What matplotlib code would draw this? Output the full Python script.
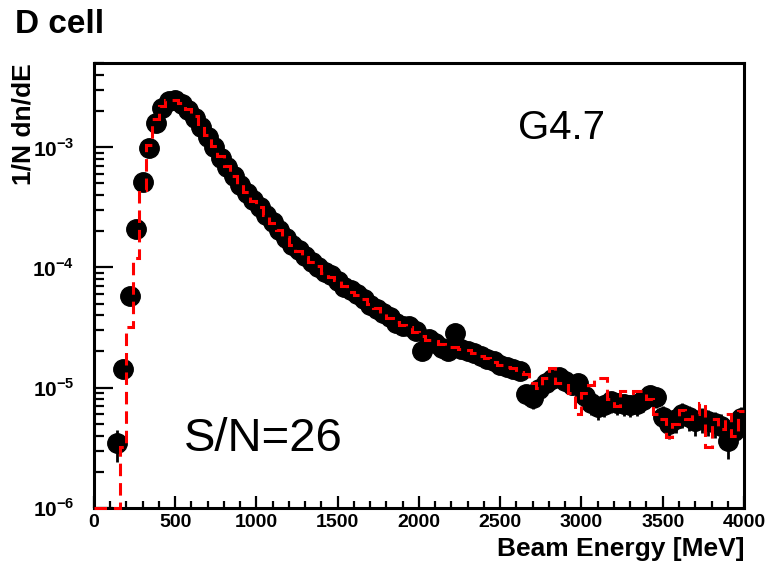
import numpy as np
import matplotlib
matplotlib.use("Agg")
import matplotlib.pyplot as plt
from matplotlib.ticker import FixedLocator, FixedFormatter, NullFormatter

plt.rcParams["font.family"] = ["Liberation Sans", "DejaVu Sans"]
plt.rcParams["mathtext.fontset"] = "custom"
plt.rcParams["mathtext.rm"] = "Liberation Sans:bold"
plt.rcParams["mathtext.bf"] = "Liberation Sans:bold"
plt.rcParams["lines.scale_dashes"] = False

# ── data: 40 MeV bins, 0-4000 MeV ────────────────────────────────────────────
BIN_EDGES = np.arange(0, 4001, 40)

# measured points (bin centres 140 ... 3980 MeV)
DATA_E = np.arange(140, 4000, 40)
DATA_Y = [
    3.45e-6, 1.43e-5, 5.83e-5, 2.08e-4, 5.13e-4, 9.87e-4, 1.60e-3, 2.13e-3,
    2.44e-3, 2.48e-3, 2.30e-3, 2.05e-3, 1.76e-3, 1.48e-3, 1.22e-3, 1.00e-3,
    8.14e-4, 6.85e-4, 5.76e-4, 4.84e-4, 4.15e-4, 3.63e-4, 3.17e-4, 2.72e-4,
    2.38e-4, 2.04e-4, 1.75e-4, 1.53e-4, 1.39e-4, 1.24e-4, 1.10e-4, 1.00e-4,
    9.08e-5, 8.58e-5, 7.64e-5, 6.94e-5, 6.43e-5, 6.07e-5, 5.51e-5, 4.91e-5,
    4.54e-5, 4.21e-5, 3.90e-5, 3.47e-5, 3.28e-5, 3.28e-5, 2.98e-5, 2.03e-5,
    2.55e-5, 2.36e-5, 2.15e-5, 2.03e-5, 2.86e-5, 2.11e-5, 2.03e-5, 1.95e-5,
    1.84e-5, 1.74e-5, 1.67e-5, 1.55e-5, 1.49e-5, 1.43e-5, 1.38e-5, 8.86e-6,
    8.20e-6, 9.75e-6, 1.09e-5, 1.18e-5, 1.23e-5, 1.14e-5, 1.05e-5, 1.09e-5,
    8.50e-6, 7.45e-6, 6.90e-6, 7.17e-6, 7.74e-6, 7.45e-6, 7.30e-6, 7.17e-6,
    7.30e-6, 7.90e-6, 8.70e-6, 8.40e-6, 5.69e-6, 4.98e-6, 5.48e-6, 6.04e-6,
    5.69e-6, 5.27e-6, 5.48e-6, 5.27e-6, 5.07e-6, 4.78e-6, 3.59e-6, 4.35e-6,
    5.58e-6,
]
# events per unit of 1/N dn/dE, used for the Poisson error bars
COUNTS_PER_UNIT = 3.2e6

# G4.7 simulation histogram (100 bins)
MC_Y = [
    0, 0, 0, 0, 3.2e-6, 3.2e-5, 1.2e-4, 4.4e-4, 1.04e-3, 1.70e-3,
    2.20e-3, 2.45e-3, 2.47e-3, 2.33e-3, 2.08e-3, 1.80e-3, 1.50e-3, 1.25e-3, 1.02e-3, 8.4e-4,
    7.0e-4, 5.8e-4, 4.9e-4, 4.2e-4, 3.6e-4, 3.15e-4, 2.75e-4, 2.35e-4, 2.05e-4, 1.80e-4,
    1.55e-4, 1.38e-4, 1.22e-4, 1.12e-4, 1.02e-4, 9.0e-5, 8.4e-5, 7.8e-5, 7.0e-5, 6.3e-5,
    5.9e-5, 5.5e-5, 5.0e-5, 4.6e-5, 4.2e-5, 3.8e-5, 3.5e-5, 3.3e-5, 3.2e-5, 2.9e-5,
    2.7e-5, 2.5e-5, 2.45e-5, 2.3e-5, 2.2e-5, 2.2e-5, 2.1e-5, 2.05e-5, 1.95e-5, 1.85e-5,
    1.75e-5, 1.65e-5, 1.55e-5, 1.50e-5, 1.45e-5, 1.35e-5, 1.30e-5, 1.10e-5, 1.00e-5, 1.20e-5,
    1.45e-5, 1.10e-5, 1.05e-5, 9.0e-6, 6.0e-6, 9.0e-6, 1.05e-5, 1.20e-5, 1.20e-5, 8.0e-6,
    7.0e-6, 9.4e-6, 9.0e-6, 9.4e-6, 9.4e-6, 8.0e-6, 6.0e-6, 5.5e-6, 3.9e-6, 5.0e-6,
    6.5e-6, 5.5e-6, 6.0e-6, 7.5e-6, 3.2e-6, 5.5e-6, 4.5e-6, 6.0e-6, 4.0e-6, 6.4e-6,
]

X_TICKS = [0, 500, 1000, 1500, 2000, 2500, 3000, 3500, 4000]
Y_TICKS = [1e-6, 1e-5, 1e-4, 1e-3]
Y_TICK_LABELS = [r"$10^{-6}$", r"$10^{-5}$", r"$10^{-4}$", r"$10^{-3}$"]
Y_MIN, Y_MAX = 1e-6, 5e-3

data_y = np.array(DATA_Y)
data_err = np.sqrt(data_y / COUNTS_PER_UNIT)
mc_y = np.clip(np.array(MC_Y), Y_MIN, None)

fig = plt.figure(figsize=(7.78, 5.63), dpi=100)
ax = fig.add_axes([0.1208, 0.0977, 0.8355, 0.7903])

ax.errorbar(DATA_E, data_y, yerr=data_err, fmt="o", color="black",
            ms=14, elinewidth=2, capsize=0, zorder=2)
ax.stairs(mc_y, BIN_EDGES, baseline=None, color="red", lw=2.2,
          linestyle=(0, (9, 5)), zorder=3, clip_on=False)

ax.set_yscale("log")
ax.set_xlim(0, 4000)
ax.set_ylim(Y_MIN, Y_MAX)

ax.xaxis.set_major_locator(FixedLocator(X_TICKS))
ax.xaxis.set_minor_locator(FixedLocator(np.arange(0, 4001, 100)))
ax.set_xticklabels([str(t) for t in X_TICKS], fontweight="bold", fontsize=14)

minor_y = [m * 10.0 ** e for e in range(-6, -2) for m in range(2, 10)]
ax.yaxis.set_major_locator(FixedLocator(Y_TICKS))
ax.yaxis.set_major_formatter(FixedFormatter(Y_TICK_LABELS))
ax.yaxis.set_minor_locator(FixedLocator(minor_y))
ax.yaxis.set_minor_formatter(NullFormatter())
for lab in ax.get_yticklabels():
    lab.set_fontsize(15)

ax.tick_params(axis="x", which="major", direction="in", length=9, width=1.6, pad=4)
ax.tick_params(axis="x", which="minor", direction="in", length=5, width=1.6)
ax.tick_params(axis="y", which="major", direction="in", length=14, width=1.6, pad=14)
ax.tick_params(axis="y", which="minor", direction="in", length=7, width=1.6)
for sp in ax.spines.values():
    sp.set_linewidth(2.2)

ax.set_xlabel("Beam Energy [MeV]", loc="right", fontsize=19, fontweight="bold")
ax.xaxis.set_label_coords(1.0, -0.066)
ax.set_ylabel("1/N dn/dE", loc="top", fontsize=19, fontweight="bold")
ax.yaxis.set_label_coords(-0.09, 1.0)

ax.text(0.72, 0.855, "G4.7", transform=ax.transAxes, fontsize=29,
        ha="center", va="center")
ax.text(0.26, 0.155, "S/N=26", transform=ax.transAxes, fontsize=34,
        ha="center", va="center")
fig.text(0.019, 0.957, "D cell", fontsize=24, fontweight="bold",
         ha="left", va="center")

fig.savefig("out.png", dpi=100)
